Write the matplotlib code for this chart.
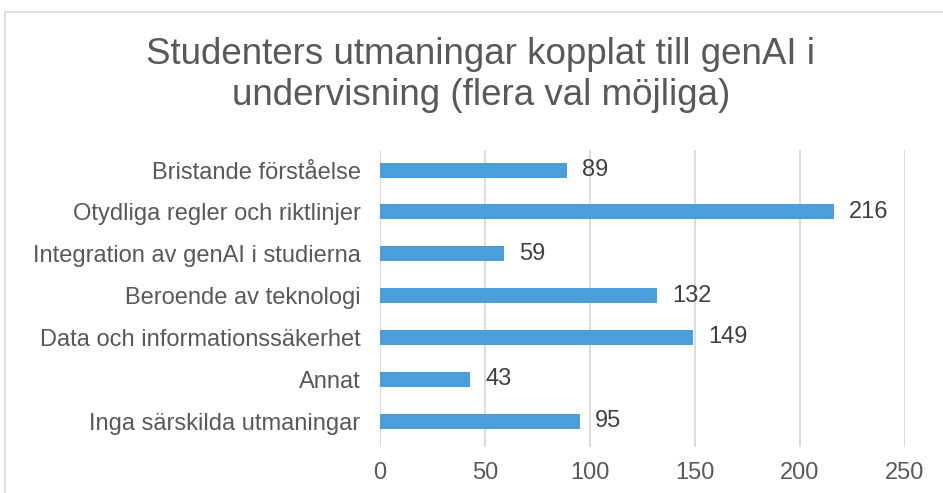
import matplotlib.pyplot as plt
from matplotlib.patches import Rectangle

plt.rcParams['font.family'] = ['Liberation Sans', 'DejaVu Sans']

# Data (top to bottom as shown)
categories = [
    'Bristande förståelse',
    'Otydliga regler och riktlinjer',
    'Integration av genAI i studierna',
    'Beroende av teknologi',
    'Data och informationssäkerhet',
    'Annat',
    'Inga särskilda utmaningar',
]
counts = [89, 216, 59, 132, 149, 43, 95]
xticks = [0, 50, 100, 150, 200, 250]

fig = plt.figure(figsize=(9.43, 4.93), dpi=100)
ax = fig.add_axes([380 / 943, 1 - 447 / 493, 525 / 943, 297 / 493])

# outer chart border (only top and left visible in the crop)
fig.patches.append(Rectangle((5 / 943, -0.1), 1.2, 1 - 12 / 493 + 0.1,
                             transform=fig.transFigure, fill=False,
                             edgecolor='#D9D9D9', linewidth=1.2))

y = list(range(len(categories)))
ax.barh(y, counts, height=0.36, color='#4A9FDB', zorder=3)
for yi, v in zip(y, counts):
    ax.annotate(str(v), (v, yi), xytext=(11, 0), textcoords='offset points',
                va='center', ha='left', fontsize=17, color='#404040')

ax.set_xlim(0, 250)
ax.set_ylim(len(categories) + 0.62 - 1, -0.48)
ax.set_xticks(xticks)
ax.set_yticks(y)
ax.set_yticklabels(categories)
ax.tick_params(axis='both', length=0, labelsize=17, labelcolor='#595959')
ax.tick_params(axis='y', pad=14)
ax.tick_params(axis='x', pad=11)
ax.grid(axis='x', color='#D9D9D9', linewidth=1.3, zorder=0)
for s in ax.spines.values():
    s.set_visible(False)

fig.text(0.51, 1 - 75 / 493, 'Studenters utmaningar kopplat till genAI i\nundervisning (flera val möjliga)',
         ha='center', va='center', fontsize=26.5, color='#595959', linespacing=1.2)

fig.savefig('out.png', dpi=100)
